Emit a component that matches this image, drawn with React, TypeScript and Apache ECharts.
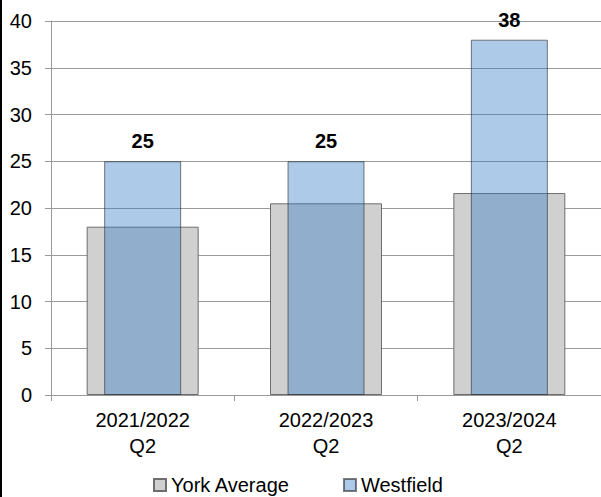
import React, { useEffect, useRef } from "react";
import * as echarts from "echarts";

const categories = ["2021/2022\nQ2", "2022/2023\nQ2", "2023/2024\nQ2"];
const yorkAverage = [18, 20.5, 21.6];
const westfield = [25, 25, 38];
const seriesNames = ["York Average", "Westfield"];

export default function App() {
  const ref = useRef<HTMLDivElement>(null);
  useEffect(() => {
    const chart = echarts.init(ref.current!, null, { renderer: "svg" });
    const font = "'Liberation Sans', Arial, sans-serif";
    chart.setOption({
      animation: false,
      backgroundColor: "#ffffff",
      textStyle: { fontFamily: font },
      grid: { left: 51, top: 21, right: 0, bottom: 102, containLabel: false },
      legend: {
        top: 475,
        left: 153,
        padding: 0,
        icon: "rect",
        itemWidth: 12,
        itemHeight: 12,
        itemGap: 53,
        textStyle: { fontFamily: font, fontSize: 20, color: "#000" },
        data: seriesNames,
      },
      xAxis: [
        {
          type: "category",
          data: categories,
          axisLine: { lineStyle: { color: "#999", width: 1 } },
          axisTick: { show: true, alignWithLabel: false, length: 6, lineStyle: { color: "#999" } },
          axisLabel: { fontFamily: font, fontSize: 20, color: "#000", lineHeight: 26, margin: 12 },
        },
        { type: "category", data: categories, show: false },
      ],
      yAxis: {
        type: "value",
        min: 0,
        max: 40,
        interval: 5,
        axisLine: { show: true, lineStyle: { color: "#999" } },
        axisTick: { show: true, length: 6, lineStyle: { color: "#999" } },
        splitLine: { lineStyle: { color: "#9a9a9a" } },
        axisLabel: { fontFamily: font, fontSize: 20, color: "#000", margin: 19 },
      },
      series: [
        {
          name: seriesNames[0],
          type: "bar",
          xAxisIndex: 0,
          data: yorkAverage,
          barWidth: 112,
          itemStyle: { color: "#d0d0d0", borderColor: "#6e6e6e", borderWidth: 1 },
        },
        {
          name: seriesNames[1],
          type: "bar",
          xAxisIndex: 1,
          data: westfield,
          barWidth: 77,
          itemStyle: { color: "rgba(50,125,200,0.4)", borderColor: "rgba(40,40,40,0.6)", borderWidth: 1 },
          label: {
            show: true,
            position: "top",
            distance: 10,
            fontFamily: font,
            fontSize: 20,
            fontWeight: "bold",
            color: "#000",
          },
        },
      ],
      graphic: [
        { type: "rect", left: 0, top: 0, shape: { x: 0, y: 0, width: 2, height: 497 }, style: { fill: "#000" } },
      ],
    });
    return () => chart.dispose();
  }, []);
  return <div ref={ref} style={{ position: "fixed", left: 0, top: 0, width: 601, height: 497 }} />;
}
